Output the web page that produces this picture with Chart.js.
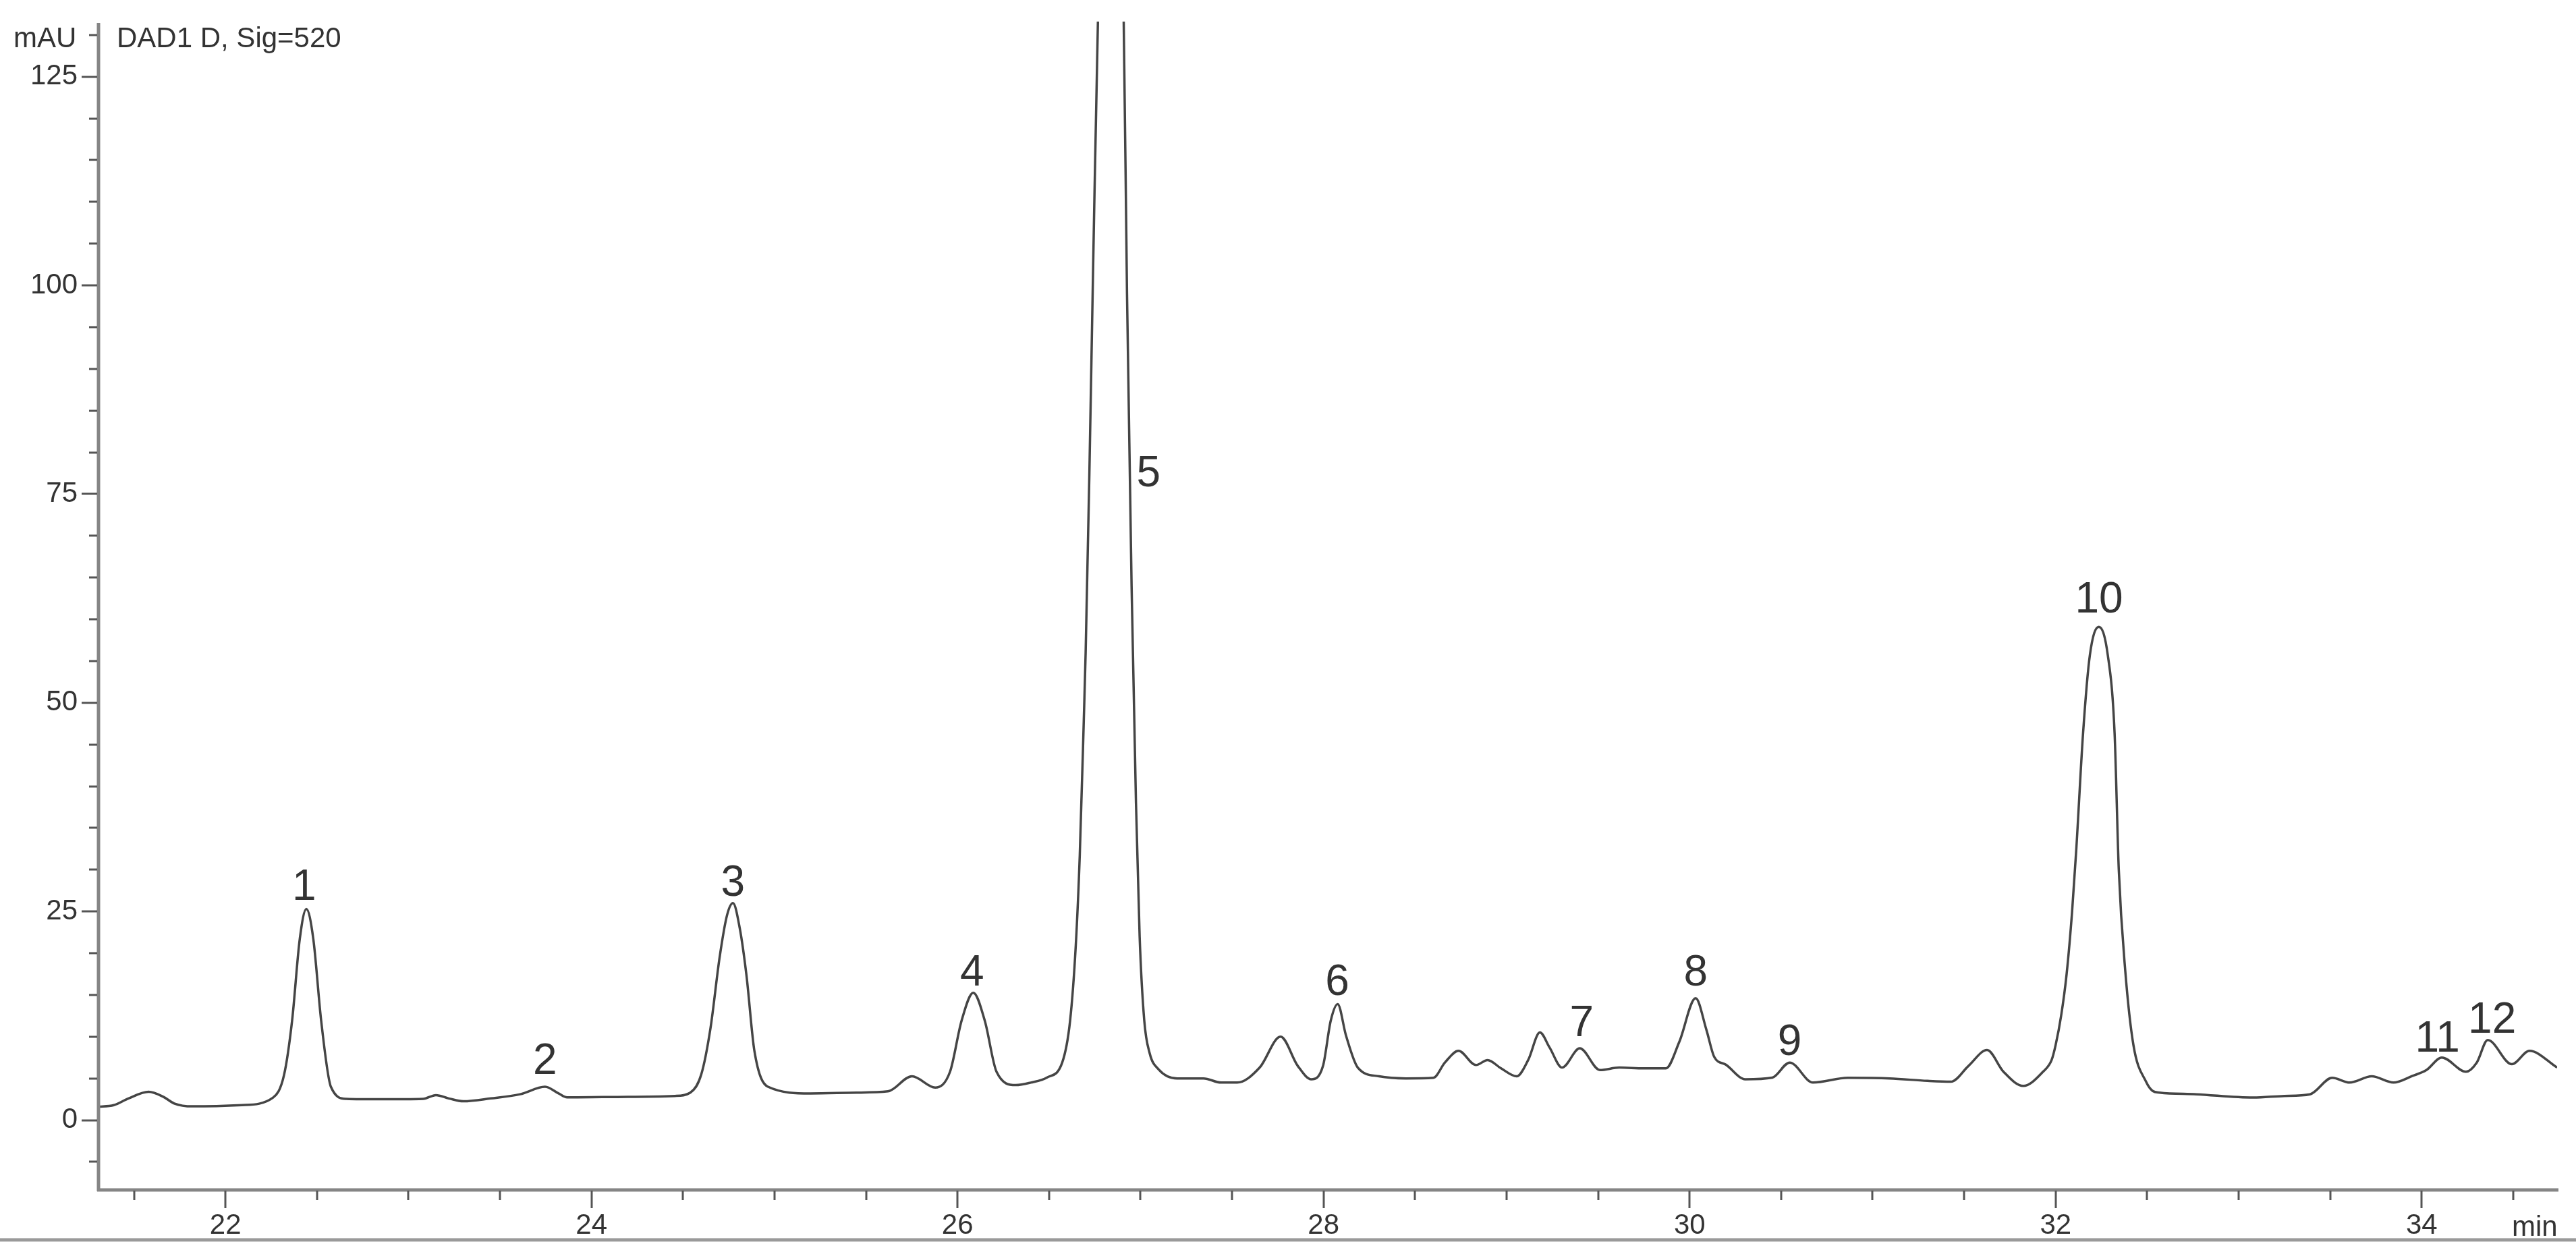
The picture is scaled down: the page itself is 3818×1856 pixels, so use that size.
<!DOCTYPE html>
<html>
<head>
<meta charset="utf-8">
<script src="https://cdn.jsdelivr.net/npm/chart.js@4.4.0/dist/chart.umd.min.js"></script>
<style>
    html, body { margin: 0; padding: 0; background: #fff; }
</style>
</head>
<body>
<canvas id="chart" width="3818" height="1856"></canvas>
<script>
// retention time (min) / signal (mAU)
const times = [
    21.30, 21.39, 21.47, 21.58, 21.66, 21.72, 21.82, 22.09, 22.26, 22.32,
    22.364, 22.406, 22.442, 22.48, 22.523, 22.576, 22.66, 22.85, 23.08, 23.15,
    23.22, 23.30, 23.45, 23.61, 23.746, 23.82, 23.867, 24.2, 24.456, 24.54,
    24.60, 24.65, 24.70, 24.74, 24.773, 24.81, 24.847, 24.89, 24.964, 25.197,
    25.45, 25.62, 25.751, 25.878, 25.959, 26.022, 26.086, 26.149, 26.213, 26.318,
    26.40, 26.488, 26.572, 26.615, 26.646, 26.668, 26.69, 26.70, 26.72, 26.742,
    26.767, 26.838, 26.908, 26.926, 26.951, 26.975, 26.995, 27.02, 27.05, 27.098,
    27.20, 27.344, 27.44, 27.528, 27.651, 27.765, 27.859, 27.933, 27.997, 28.039,
    28.077, 28.123, 28.187, 28.303, 28.45, 28.6, 28.663, 28.737, 28.833, 28.896,
    28.97, 29.055, 29.118, 29.182, 29.235, 29.303, 29.40, 29.51, 29.616, 29.75,
    29.87, 29.944, 30.033, 30.092, 30.134, 30.198, 30.304, 30.452, 30.547, 30.674,
    30.865, 31.093, 31.30, 31.428, 31.524, 31.625, 31.715, 31.823, 31.931, 31.978,
    32.0, 32.03, 32.06, 32.09, 32.113, 32.15, 32.187, 32.236, 32.285, 32.322,
    32.345, 32.38, 32.425, 32.494, 32.53, 32.568, 32.769, 33.08, 33.25, 33.39,
    33.511, 33.607, 33.727, 33.846, 33.95, 34.026, 34.11, 34.242, 34.301, 34.361,
    34.493, 34.589, 34.74
];
const signal = [
    1.6, 1.8, 2.6, 3.4, 2.8, 2.0, 1.65, 1.8, 2.7, 5.4,
    11.9, 21.7, 25.3, 21.7, 11.9, 4.0, 2.55, 2.5, 2.55, 3.0,
    2.6, 2.26, 2.6, 3.1, 4.0, 3.2, 2.73, 2.8, 2.9, 3.3,
    5.5, 11, 19.5, 24.5, 26.0, 23, 17.3, 8.3, 4.0, 3.2,
    3.3, 3.45, 5.25, 3.9, 5.8, 11.9, 15.25, 11.9, 5.8, 4.2,
    4.5, 5.1, 6.9, 11.9, 20.9, 31.8, 48, 56, 77, 103.5,
    131.5, 181, 131.5, 99, 64, 38, 22, 12, 8, 6.1,
    5.0, 5.0, 4.5, 4.5, 6.3, 10.0, 6.5, 4.9, 6.5, 11.9,
    13.9, 10.1, 6.3, 5.25, 5.0, 5.07, 6.9, 8.3, 6.6, 7.2,
    6.2, 5.25, 7.2, 10.5, 8.7, 6.3, 8.6, 6.0, 6.3, 6.2,
    6.2, 9.4, 14.6, 10.8, 7.6, 6.65, 4.9, 5.1, 6.9, 4.5,
    5.07, 5.0, 4.7, 4.6, 6.5, 8.4, 5.8, 4.1, 5.8, 7.2,
    9, 12.5, 17.5, 25, 32.5, 46.4, 55.7, 59.1, 55.7, 46.4,
    30, 18, 9, 4.6, 3.5, 3.3, 3.1, 2.7, 2.9, 3.1,
    5.07, 4.5, 5.25, 4.5, 5.3, 6.0, 7.5, 5.8, 6.9, 9.6,
    6.7, 8.3, 6.3
];

// peak numbers and where their labels sit (time, mAU of the baseline of the text)
const peakNames = ['1', '2', '3', '4', '5', '6', '7', '8', '9', '10', '11', '12'];
const peakLabelTimes = [22.43, 23.746, 24.773, 26.08, 27.044, 28.075, 29.41, 30.033, 30.547, 32.237, 34.086, 34.385];
const peakLabelLevels = [26.4, 5.5, 26.9, 16.1, 75.9, 15.0, 10.1, 16.1, 7.8, 60.8, 8.2, 10.5];

// axis ranges and tick spacing
const xRange = [21.31, 34.74];
const yRange = [-8.2, 131.6];
const xTickStep = 0.5, xLabelStep = 2;
const yTickStep = 5, yLabelStep = 25;

const FONT = '"Liberation Sans", Arial, sans-serif';
const TEXT = '#333';

function onStep(v, step) {
    return Math.abs(v / step - Math.round(v / step)) < 1e-6;
}

// axis lines, tick marks, headers and peak numbers
const chromAxes = {
    id: 'chromAxes',
    afterDraw(chart) {
        const ctx = chart.ctx;
        const area = chart.chartArea;
        const xs = chart.scales.x, ys = chart.scales.y;
        ctx.save();

        // y axis
        ctx.strokeStyle = '#858585';
        ctx.lineWidth = 5;
        ctx.beginPath();
        ctx.moveTo(area.left - 1, area.top + 2);
        ctx.lineTo(area.left - 1, area.bottom + 4);
        ctx.stroke();
        // x axis
        ctx.beginPath();
        ctx.moveTo(area.left - 3, area.bottom + 2);
        ctx.lineTo(area.right + 2, area.bottom + 2);
        ctx.stroke();
        // separator under the axis labels
        ctx.strokeStyle = '#9a9a9a';
        ctx.lineWidth = 5;
        ctx.beginPath();
        ctx.moveTo(0, 1838);
        ctx.lineTo(3818, 1838);
        ctx.stroke();

        ctx.strokeStyle = '#555';
        ctx.lineWidth = 3;
        ys.ticks.forEach(t => {
            const py = Math.round(ys.getPixelForValue(t.value));
            const len = onStep(t.value, yLabelStep) ? 23 : 12;
            ctx.beginPath();
            ctx.moveTo(area.left - 3, py);
            ctx.lineTo(area.left - 3 - len, py);
            ctx.stroke();
        });
        xs.ticks.forEach(t => {
            const px = Math.round(xs.getPixelForValue(t.value));
            const len = onStep(t.value, xLabelStep) ? 26 : 14;
            ctx.beginPath();
            ctx.moveTo(px, area.bottom + 3);
            ctx.lineTo(px, area.bottom + 3 + len);
            ctx.stroke();
        });

        ctx.fillStyle = TEXT;
        ctx.font = '42px ' + FONT;
        ctx.textAlign = 'left';
        ctx.textBaseline = 'alphabetic';
        ctx.fillText('mAU', 20, 70);
        ctx.fillText('DAD1 D, Sig=520', 173, 70);
        ctx.fillText('min', 3723, 1832);

        ctx.font = '64px ' + FONT;
        ctx.textAlign = 'center';
        peakNames.forEach((name, i) => {
            ctx.fillText(name, xs.getPixelForValue(peakLabelTimes[i]), ys.getPixelForValue(peakLabelLevels[i]));
        });
        ctx.restore();
    }
};

new Chart(document.getElementById('chart'), {
    type: 'line',
    data: {
        datasets: [{
            data: times.map((t, i) => ({ x: t, y: signal[i] })),
            borderColor: '#454545',
            borderWidth: 3.5,
            pointRadius: 0,
            fill: false,
            cubicInterpolationMode: 'monotone'
        }]
    },
    options: {
        responsive: false,
        animation: false,
        events: [],
        layout: { padding: { top: 32, right: 28, left: 0, bottom: 0 } },
        plugins: { legend: { display: false }, tooltip: { enabled: false } },
        scales: {
            x: {
                type: 'linear',
                min: xRange[0],
                max: xRange[1],
                grid: { display: false, drawTicks: false },
                border: { display: false },
                ticks: {
                    stepSize: xTickStep,
                    includeBounds: false,
                    autoSkip: false,
                    maxRotation: 0,
                    padding: 30,
                    color: TEXT,
                    font: { family: FONT, size: 42 },
                    callback: v => onStep(v, xLabelStep) ? String(Math.round(v)) : ''
                },
                afterFit: s => { s.height = 94; s.paddingLeft = 0; s.paddingRight = 0; }
            },
            y: {
                min: yRange[0],
                max: yRange[1],
                grid: { display: false, drawTicks: false },
                border: { display: false },
                ticks: {
                    stepSize: yTickStep,
                    includeBounds: false,
                    autoSkip: false,
                    padding: 32,
                    color: TEXT,
                    font: { family: FONT, size: 42 },
                    callback: v => onStep(v, yLabelStep) ? String(Math.round(v)) : ''
                },
                afterFit: s => { s.width = 147; s.paddingTop = 0; s.paddingBottom = 0; }
            }
        }
    },
    plugins: [chromAxes]
});
</script>
</body>
</html>
